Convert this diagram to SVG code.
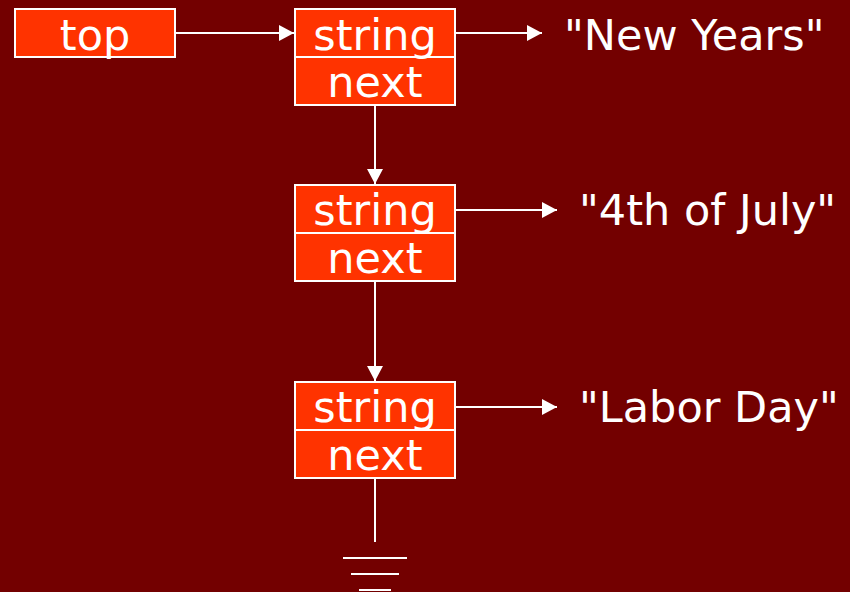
<svg xmlns="http://www.w3.org/2000/svg" width="850" height="592" viewBox="0 0 850 592">
<style>
.box{fill:#ff3300;stroke:#ffffff;stroke-width:2}
.t{font-family:"DejaVu Sans",Verdana,sans-serif;font-size:43px;fill:#ffffff}
.c{text-anchor:middle}
.ln{stroke:#ffffff;stroke-width:2;fill:none}
</style>
<defs>
<marker id="ah" markerWidth="15" markerHeight="16" refX="15" refY="8" orient="auto" markerUnits="userSpaceOnUse">
<path d="M0,0 L15,8 L0,16 Z" fill="#ffffff"/>
</marker>
</defs>
<rect width="850" height="592" fill="#730000"/>
<g id="top">
<rect class="box" x="15" y="9" width="160" height="48"/>
<text class="t c" x="95" y="50">top</text>
</g>
<g id="node1">
<rect class="box" x="295" y="9" width="160" height="48"/>
<rect class="box" x="295" y="57" width="160" height="48"/>
<text class="t c" x="375" y="50">string</text>
<text class="t c" x="375" y="97">next</text>
</g>
<g id="node2">
<rect class="box" x="295" y="185" width="160" height="48"/>
<rect class="box" x="295" y="233" width="160" height="48"/>
<text class="t c" x="375" y="225">string</text>
<text class="t c" x="375" y="273">next</text>
</g>
<g id="node3">
<rect class="box" x="295" y="382" width="160" height="48"/>
<rect class="box" x="295" y="430" width="160" height="48"/>
<text class="t c" x="375" y="422">string</text>
<text class="t c" x="375" y="470">next</text>
</g>
<g id="val1"><text class="t" x="564" y="50">"New Years"</text></g>
<g id="val2"><text class="t" x="579" y="225">"4th of July"</text></g>
<g id="val3"><text class="t" x="579" y="422">"Labor Day"</text></g>
<g id="ground">
<line class="ln" x1="343" y1="558" x2="407" y2="558"/>
<line class="ln" x1="351" y1="574" x2="399" y2="574"/>
<line class="ln" x1="359" y1="590" x2="391" y2="590"/>
</g>
<g id="connectors">
<line class="ln" x1="175" y1="33" x2="294" y2="33" marker-end="url(#ah)"/>
<line class="ln" x1="455" y1="33" x2="542" y2="33" marker-end="url(#ah)"/>
<line class="ln" x1="375" y1="105" x2="375" y2="184" marker-end="url(#ah)"/>
<line class="ln" x1="455" y1="210" x2="557" y2="210" marker-end="url(#ah)"/>
<line class="ln" x1="375" y1="281" x2="375" y2="381" marker-end="url(#ah)"/>
<line class="ln" x1="455" y1="407" x2="557" y2="407" marker-end="url(#ah)"/>
<line class="ln" x1="375" y1="478" x2="375" y2="542"/>
</g>
</svg>
